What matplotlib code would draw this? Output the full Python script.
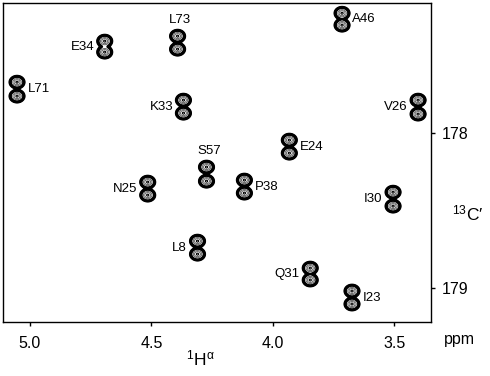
import numpy as np
import matplotlib
matplotlib.use('Agg')
import matplotlib.pyplot as plt

plt.rcParams['font.family'] = ['Liberation Sans', 'DejaVu Sans']
plt.rcParams['mathtext.fontset'] = 'custom'
plt.rcParams['mathtext.rm'] = 'Liberation Sans'
plt.rcParams['mathtext.default'] = 'regular'

# ===== 데이터: 1Hα / 13C' 피크 (doublet) =====
residues = ['E34', 'L73', 'L71', 'K33', 'S57', 'N25', 'P38',
            'L8', 'A46', 'V26', 'E24', 'I30', 'Q31', 'I23']
h_alpha = [4.692, 4.392, 5.053, 4.368, 4.273, 4.515, 4.117,
           4.310, 3.715, 3.402, 3.932, 3.505, 3.846, 3.674]
c_upper = [177.406, 177.374, 177.671, 177.787, 178.219, 178.316, 178.303,
           178.697, 177.226, 177.787, 178.045, 178.381, 178.871, 179.019]
c_lower = [177.477, 177.458, 177.761, 177.871, 178.310, 178.400, 178.387,
           178.781, 177.303, 177.877, 178.129, 178.471, 178.948, 179.103]

x_ticks = [5.0, 4.5, 4.0, 3.5]
y_ticks = [178, 179]

# 라벨 위치 (스타일)
label_side = {'E34': 'left', 'L73': 'top', 'L71': 'right', 'K33': 'left',
              'S57': 'top', 'N25': 'left', 'P38': 'right', 'L8': 'left',
              'A46': 'right', 'V26': 'left', 'E24': 'right', 'I30': 'left',
              'Q31': 'left', 'I23': 'right'}

fig = plt.figure(figsize=(4.90, 3.76), dpi=100)
ax = fig.add_axes([0.006, 0.1436, 0.874, 0.848])

xlim = (5.111, 3.348)
ylim = (179.219, 177.161)

# 스펙트럼 그리드
gx = np.linspace(3.348, 5.111, 1400)
gy = np.linspace(177.161, 179.219, 1300)
X, Y = np.meshgrid(gx, gy)
Z = np.zeros_like(X)
sx, sy = 0.012, 0.016
for h, c1, c2 in zip(h_alpha, c_upper, c_lower):
    for c in (c1, c2):
        Z += np.exp(-((X - h) ** 2) / (2 * sx ** 2) - ((Y - c) ** 2) / (2 * sy ** 2))

# 바깥 윤곽 (진한 테두리)
ax.contour(X, Y, Z, levels=[0.03, 0.045, 0.065, 0.09, 0.12], colors='black', linewidths=1.2)
# 안쪽 윤곽
ax.contour(X, Y, Z, levels=[0.35, 0.6], colors='#555555', linewidths=0.6)
ax.contour(X, Y, Z, levels=[0.93], colors='black', linewidths=0.8)

# 라벨
for name, h, c1, c2 in zip(residues, h_alpha, c_upper, c_lower):
    side = label_side[name]
    mid = (c1 + c2) / 2
    if side == 'left':
        ax.annotate(name, xy=(h, mid), xytext=(-7.5, 0), textcoords='offset points',
                    ha='right', va='center', fontsize=9.5)
    elif side == 'right':
        ax.annotate(name, xy=(h, mid), xytext=(7.5, 0), textcoords='offset points',
                    ha='left', va='center', fontsize=9.5)
    else:
        ax.annotate(name, xy=(h, c1), xytext=(2, 7.5), textcoords='offset points',
                    ha='center', va='bottom', fontsize=9.5)

ax.set_xlim(*xlim)
ax.set_ylim(*ylim)
ax.set_xticks(x_ticks)
ax.set_xticklabels([f'{v:.1f}' for v in x_ticks])
ax.set_yticks(y_ticks)
ax.set_yticklabels([str(v) for v in y_ticks])
ax.yaxis.tick_right()
ax.tick_params(axis='x', direction='out', length=3, width=1, pad=7, labelsize=11.5)
ax.tick_params(axis='y', direction='out', length=3, width=1, pad=4.5, labelsize=11.5)
for sp in ax.spines.values():
    sp.set_linewidth(1.0)

ax.text(1.065, -0.055, 'ppm', transform=ax.transAxes, ha='center', va='center', fontsize=11.5)
ax.text(1.085, 0.34, "$^{13}$C′", transform=ax.transAxes, ha='center', va='center', fontsize=12.5)
fig.text(0.408, 0.048, r"$^{1}$H$^{\alpha}$", ha='center', va='center', fontsize=12.5)

fig.savefig('out.png', dpi=100)
